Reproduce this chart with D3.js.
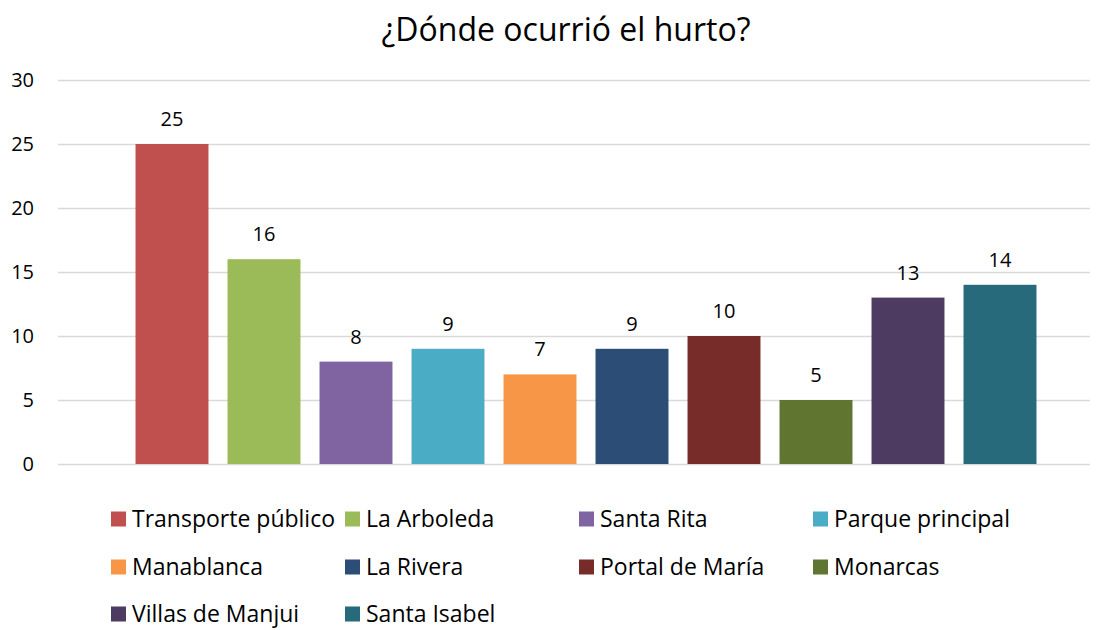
<!DOCTYPE html>
<meta charset="utf-8">
<html>
<script src="https://d3js.org/d3.v7.min.js"></script>
<style>
  body { margin: 0; background: #fff; }
  text { font-family: "Open Sans", "Noto Sans", sans-serif; fill: #000; }
</style>
<body>
<div id="chart"></div>
<script>
    // data
    const places = ["Transporte público", "La Arboleda", "Santa Rita", "Parque principal", "Manablanca",
                    "La Rivera", "Portal de María", "Monarcas", "Villas de Manjui", "Santa Isabel"];
    const counts = [25, 16, 8, 9, 7, 9, 10, 5, 13, 14];
    const colors = ["#C0504D", "#9BBB59", "#8064A2", "#4BACC6", "#F79646",
                    "#2C4D75", "#772C2A", "#5F7530", "#4D3B62", "#276A7C"];
    const yTicks = [0, 5, 10, 15, 20, 25, 30];

    const width = 1110, height = 630;
    const gridLeft = 58, gridRight = 1090;

    const svg = d3.select("#chart").append("svg")
        .attr("width", width)
        .attr("height", height);

    // title
    svg.append("text")
        .attr("x", 566)
        .attr("y", 41)
        .attr("text-anchor", "middle")
        .style("font-size", "32px")
        .text("¿Dónde ocurrió el hurto?");

    const x = d3.scaleBand()
        .domain(places)
        .range([126, 1046])
        .paddingInner(0.207)
        .paddingOuter(0.1035);

    const y = d3.scaleLinear()
        .domain([0, 30])
        .range([464, 80]);

    // gridlines + tick labels
    const yAxis = svg.append("g")
        .attr("transform", `translate(${gridLeft},0)`)
        .call(d3.axisLeft(y).tickValues(yTicks).tickSize(-(gridRight - gridLeft)).tickPadding(24));
    yAxis.select(".domain").remove();
    yAxis.selectAll(".tick line").attr("stroke", "#d9d9d9").attr("stroke-width", 1.3);
    yAxis.selectAll(".tick text")
        .style("font-size", "20px")
        .style("font-family", "'Open Sans', 'Noto Sans', sans-serif")
        .attr("fill", "#000");

    // bars
    svg.selectAll("rect.bar")
        .data(places)
        .join("rect")
        .attr("class", "bar")
        .attr("x", d => x(d))
        .attr("width", x.bandwidth())
        .attr("y", (d, i) => y(counts[i]))
        .attr("height", (d, i) => y(0) - y(counts[i]))
        .attr("fill", (d, i) => colors[i]);

    // value labels
    svg.selectAll("text.val")
        .data(places)
        .join("text")
        .attr("class", "val")
        .attr("x", d => x(d) + x.bandwidth() / 2)
        .attr("y", (d, i) => y(counts[i]) - 18)
        .attr("text-anchor", "middle")
        .style("font-size", "20px")
        .text((d, i) => counts[i]);

    // legend, 4 columns
    const legend = svg.append("g");
    const colX = [111, 345, 579, 813];
    const rowY = [519, 567, 614];
    places.forEach((p, i) => {
        const cx = colX[i % 4], cy = rowY[Math.floor(i / 4)];
        legend.append("rect")
            .attr("x", cx)
            .attr("y", cy - 7.5)
            .attr("width", 15)
            .attr("height", 15)
            .attr("fill", colors[i]);
        legend.append("text")
            .attr("x", cx + 21)
            .attr("y", cy + 8)
            .style("font-size", "23px")
            .text(p);
    });
</script>
</body>
</html>
